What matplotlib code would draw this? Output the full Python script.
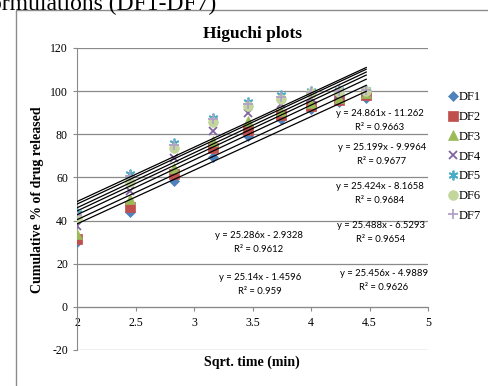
import numpy as np
import matplotlib
matplotlib.use("Agg")
import matplotlib.pyplot as plt
from matplotlib.patches import Rectangle

plt.rcParams["axes.unicode_minus"] = False

# sqrt of time points (4..20 min)
sqrt_t = [2.0, 2.449, 2.828, 3.162, 3.464, 3.742, 4.0, 4.243, 4.472]

# cumulative % released
df1 = [30, 44, 58.5, 69.5, 79, 87, 91.5, 95, 97]
df2 = [31.5, 46.5, 61.5, 73.5, 82, 89, 93, 96, 98]
df3 = [34, 50, 64.5, 77, 86, 91, 94.5, 97, 99]
df4 = [37.5, 53.5, 69, 81.5, 90, 94, 97, 98.5, 99.5]
df5 = [43.5, 61.5, 76, 87.5, 95, 98, 100, 100.5, 100.5]
df6 = [41, 58, 73.5, 85.5, 93, 96.5, 99, 99.5, 100]
df7 = [42.5, 60.5, 75, 87, 94, 97.5, 99.5, 100, 100.5]

names = ["DF1", "DF2", "DF3", "DF4", "DF5", "DF6", "DF7"]
# trendline equations shown on the chart
slopes = [24.861, 25.199, 25.424, 25.488, 25.456, 25.286, 25.14]
intercepts = [-11.262, -9.9964, -8.1658, -6.5293, -4.9889, -2.9328, -1.4596]
r2 = ["0.9663", "0.9677", "0.9684", "0.9654", "0.9626", "0.9612", "0.959"]

series = [df1, df2, df3, df4, df5, df6, df7]
colors = ["#4F81BD", "#C0504D", "#9BBB59", "#8064A2", "#4BACC6", "#C3D69B", "#B3A2C7"]
markers = ["D", "s", "^", "x", (6, 2, 0), "o", "+"]
msizes = [5.5, 6.5, 6.5, 6, 7, 7, 7]

fig = plt.figure(figsize=(4.88, 3.86), dpi=100)
W, H = 488, 386

# partial caption from the page above the chart (cut off in the original too)
fig.text(-0.02, 1 - 4 / H, "ormulations (DF1-DF7)", fontsize=17,
         family="Liberation Serif", va="center", ha="left")

# chart frame (cut off at the right and bottom)
fig.add_artist(Rectangle((16 / W, -0.2), 1.2, 1.2 - 10 / H, transform=fig.transFigure,
                         fill=False, edgecolor="#8c8c8c", linewidth=1.0))

ax = fig.add_axes([77 / W, 1 - 350 / H, (428 - 77) / W, (350 - 48) / H])

for i in range(7):
    x = np.array(sqrt_t)
    thin = markers[i] in ("x", "+") or isinstance(markers[i], tuple)
    ax.plot(x, series[i], linestyle="none", marker=markers[i], color=colors[i],
            markersize=msizes[i], markeredgewidth=1.3 if thin else 0.5,
            markeredgecolor=colors[i], label=names[i], zorder=3)

# trendlines
for i in range(7):
    xl = np.array([sqrt_t[0], sqrt_t[-1]])
    ax.plot(xl, slopes[i] * xl + intercepts[i], color="black", linewidth=0.9, zorder=4)

ax.set_xlim(2, 5)
ax.set_ylim(-20, 120)
ax.set_xticks([2, 2.5, 3, 3.5, 4, 4.5, 5])
ax.set_xticklabels(["2", "2.5", "3", "3.5", "4", "4.5", "5"])
ax.set_yticks(range(-20, 121, 20))
ax.grid(axis="y", color="#8a8a8a", linewidth=0.9)
ax.set_axisbelow(True)
for s in ["top", "right"]:
    ax.spines[s].set_visible(False)
ax.spines["bottom"].set_position(("data", 0))
ax.spines["bottom"].set_color("#8a8a8a")
ax.spines["left"].set_color("#8a8a8a")
ax.tick_params(axis="both", colors="#8a8a8a", length=3, width=0.8, labelsize=8.5)
for lab in ax.get_xticklabels() + ax.get_yticklabels():
    lab.set_color("black")
    lab.set_family("Liberation Serif")
ax.tick_params(axis="x", pad=4)

ax.set_title("Higuchi plots", fontsize=12.5, fontweight="bold", family="Liberation Serif", pad=7)
fig.text(38 / W, 1 - 200 / H, "Cumulative % of drug released", fontsize=10, fontweight="bold",
         family="Liberation Serif", ha="center", va="center", rotation=90)
fig.text(252 / W, 1 - 362 / H, "Sqrt. time (min)", fontsize=10, fontweight="bold",
         family="Liberation Serif", ha="center", va="center")

# equation labels (pixel centres from the picture)
eq_pos = [(380, 114), (382, 148), (380, 187), (381, 226), (384, 273), (259, 236), (260, 277)]
for i in range(7):
    px, py = eq_pos[i]
    sign = "-" if intercepts[i] < 0 else "+"
    fig.text(px / W, 1 - py / H, "y = %gx %s %g" % (slopes[i], sign, abs(intercepts[i])),
             fontsize=6.8, family="Lato", ha="center", va="center")
    fig.text(px / W, 1 - (py + 14) / H, "R² = " + r2[i],
             fontsize=6.8, family="Lato", ha="center", va="center")

leg = ax.legend(loc="center left", bbox_to_anchor=(442 / W, 1 - 156.5 / H),
                bbox_transform=fig.transFigure, frameon=False, handlelength=0.7,
                handletextpad=0.15, labelspacing=0.62, borderpad=0,
                prop={"family": "Liberation Serif", "size": 9})

fig.savefig("out.png", dpi=100)
